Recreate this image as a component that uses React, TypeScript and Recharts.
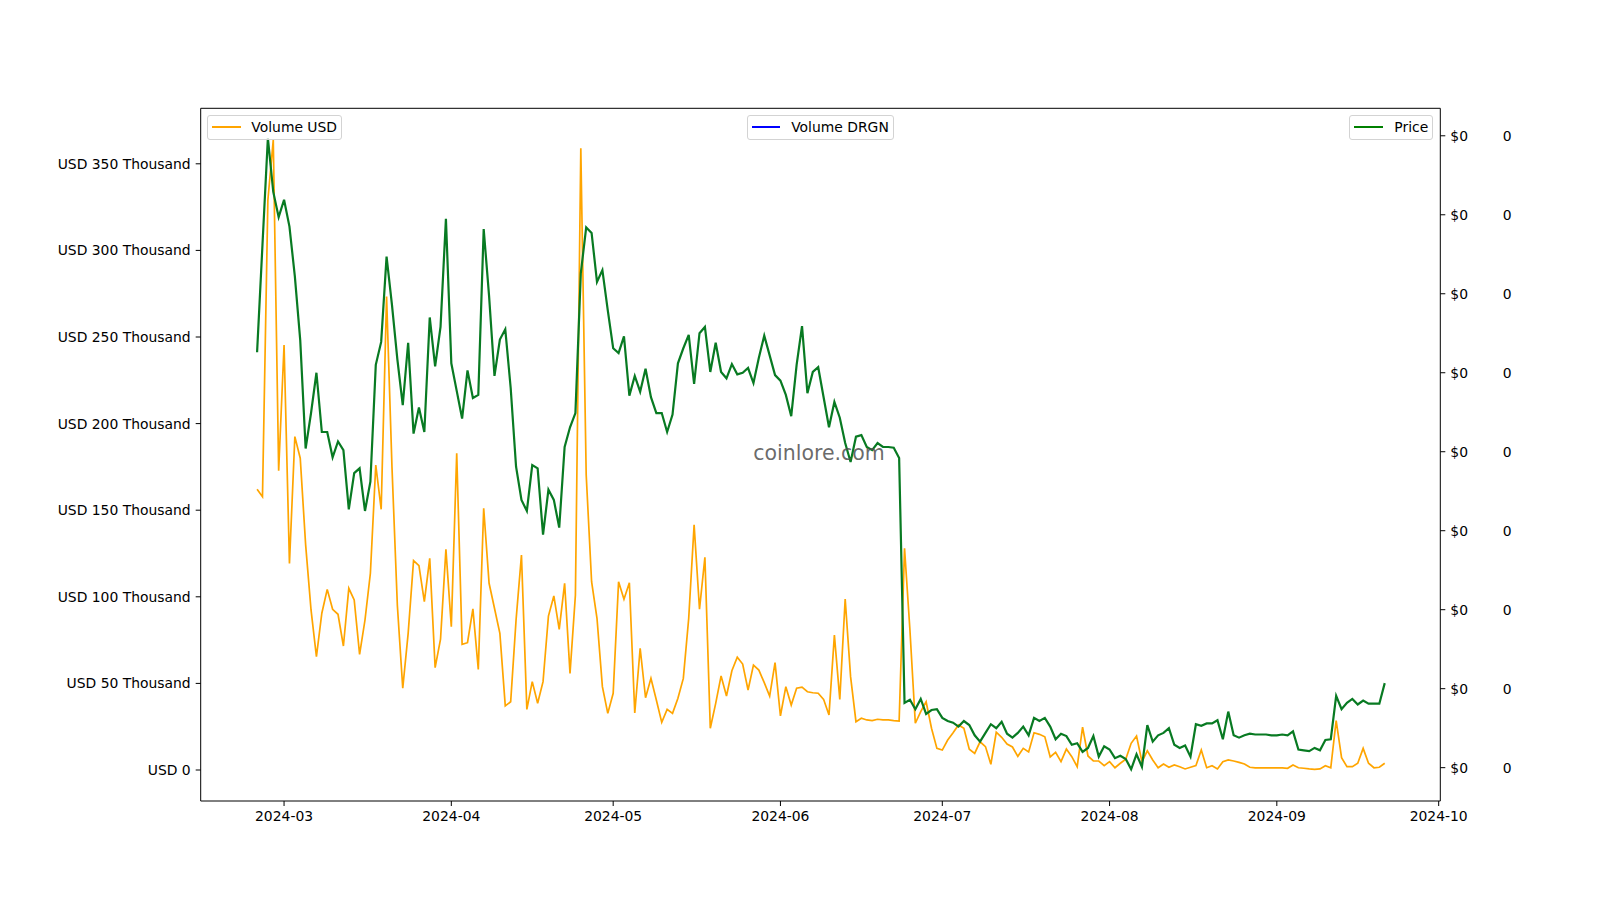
import React from 'react';
import { LineChart, Line, XAxis, YAxis, ReferenceLine } from 'recharts';

// day offsets relative to 2024-03-01; first sample is 2024-02-25
const startDay = -5;

const volumeUsd = [
  162100, 157800, 329000, 363800, 172800,
  245400, 119300, 192500, 180000, 130000, 92400, 65400, 90500, 104300, 92800,
  89900, 71600, 104900, 98200, 66800, 86600, 113600, 176100, 150500, 273300,
  175000, 95000, 47200, 78900, 120900, 118000, 97200, 122200, 59100, 75500,
  127400, 82700, 182900, 72600, 73500, 93000, 58100, 151100, 107800, 93400,
  78900, 37000, 39400, 86600, 124100, 35000, 51000, 38500, 51000, 88900,
  100500, 81200, 107800, 55800, 101000, 359000, 170300, 108700, 87600, 48100,
  32700, 44300, 108700, 98600, 108100, 32900, 70300, 41700, 52900, 40400,
  27500, 35000, 32700, 41400, 52900, 87600, 141500, 92800, 122800, 24100,
  38500, 54300, 42700, 57300, 65100, 61200, 46200, 60600, 57700, 50400,
  42700, 62000, 31200, 48100, 37500, 47200, 47800, 45200, 44600, 44300,
  40800, 31800, 77900, 40800, 98700, 53900, 27900, 29900, 28900, 28500,
  29300, 28900, 28900, 28500, 28300, 128000, 80800, 27000, 33700, 39400,
  24100, 12500, 11500, 17300, 21500, 26000, 24100, 12000, 9600, 16300,
  13500, 3300, 21800, 18900, 15000, 13300, 7900, 12500, 10400, 21500,
  20600, 19200, 7500, 10200, 4800, 12100, 7700, 1900, 24700, 8100,
  5200, 5200, 2500, 4800, 1300, 3900, 6200, 15400, 19600, 4800,
  11100, 5800, 1300, 3500, 1600, 2900, 1900, 600, 1600, 2500,
  11500, 1300, 2500, 600, 4800, 5800, 5200, 4400, 3500, 1600,
  1200, 1200, 1200, 1200, 1200, 1200, 1000, 2900, 1300, 1000,
  600, 400, 600, 2500, 1300, 28500, 7100, 1900, 1900, 3900,
  12500, 3900, 1300, 1600, 3900,
];

const priceUsd = [
  0.0626, 0.0762, 0.0897, 0.0829, 0.0797,
  0.0819, 0.0785, 0.0722, 0.0641, 0.0504, 0.0549, 0.0600, 0.0525, 0.0525, 0.0493,
  0.0513, 0.0502, 0.0427, 0.0473, 0.0479, 0.0425, 0.0462, 0.0610, 0.0639, 0.0747,
  0.0686, 0.0617, 0.0559, 0.0638, 0.0523, 0.0556, 0.0525, 0.0670, 0.0608, 0.0658,
  0.0795, 0.0612, 0.0577, 0.0542, 0.0603, 0.0568, 0.0572, 0.0782, 0.0697, 0.0596,
  0.0642, 0.0655, 0.0581, 0.0481, 0.0439, 0.0425, 0.0483, 0.0479, 0.0395, 0.0452,
  0.0439, 0.0404, 0.0506, 0.0531, 0.0549, 0.0726, 0.0784, 0.0777, 0.0715, 0.0730,
  0.0679, 0.0631, 0.0625, 0.0646, 0.0571, 0.0596, 0.0576, 0.0605, 0.0569, 0.0549,
  0.0549, 0.0525, 0.0547, 0.0612, 0.0631, 0.0648, 0.0586, 0.0650, 0.0658, 0.0601,
  0.0638, 0.0601, 0.0593, 0.0611, 0.0598, 0.0600, 0.0606, 0.0587, 0.0619, 0.0647,
  0.0622, 0.0597, 0.0590, 0.0572, 0.0545, 0.0610, 0.0659, 0.0574, 0.0601, 0.0607,
  0.0569, 0.0531, 0.0563, 0.0543, 0.0511, 0.0487, 0.0519, 0.0521, 0.0506, 0.0502,
  0.0511, 0.0506, 0.0506, 0.0505, 0.0492, 0.0182, 0.0186, 0.0174, 0.0187, 0.0168,
  0.0173, 0.0174, 0.0163, 0.0159, 0.0157, 0.0152, 0.0159, 0.0154, 0.0141, 0.0133,
  0.0144, 0.0155, 0.0150, 0.0158, 0.0143, 0.0138, 0.0144, 0.0152, 0.0141, 0.0163,
  0.0159, 0.0163, 0.0152, 0.0136, 0.0143, 0.0140, 0.0129, 0.0131, 0.0120, 0.0125,
  0.0140, 0.0114, 0.0127, 0.0123, 0.0112, 0.0115, 0.0111, 0.0098, 0.0117, 0.0101,
  0.0154, 0.0133, 0.0141, 0.0144, 0.0150, 0.0129, 0.0125, 0.0128, 0.0114, 0.0155,
  0.0153, 0.0156, 0.0156, 0.0160, 0.0136, 0.0171, 0.0141, 0.0138, 0.0141, 0.0143,
  0.0142, 0.0142, 0.0142, 0.0141, 0.0141, 0.0142, 0.0141, 0.0146, 0.0123, 0.0122,
  0.0121, 0.0125, 0.0122, 0.0135, 0.0136, 0.0191, 0.0174, 0.0182, 0.0187, 0.0180,
  0.0185, 0.0181, 0.0181, 0.0181, 0.0207,
];

const monthTicks = [0, 31, 61, 92, 122, 153, 184, 214];
const monthLabels = ['2024-03', '2024-04', '2024-05', '2024-06', '2024-07', '2024-08', '2024-09', '2024-10'];
const volumeTicks = [0, 50000, 100000, 150000, 200000, 250000, 300000, 350000];
const priceTicks = [0.01, 0.02, 0.03, 0.04, 0.05, 0.06, 0.07, 0.08, 0.09];

const VOL_DOMAIN: [number, number] = [-17898, 382044];
const PRICE_DOMAIN: [number, number] = [0.00578, 0.09348];
const X_DOMAIN: [number, number] = [-15.45, 214.3];

const data = volumeUsd.map((v, i) => ({
  d: startDay + i,
  volumeUsd: v,
  price: priceUsd[i],
  volumeDrgn: null as number | null,
}));

const FONT = '"DejaVu Sans", Verdana, sans-serif';
const FS = 13.9;

const xLabel = (v: number) => {
  const i = monthTicks.indexOf(v);
  return i >= 0 ? monthLabels[i] : '';
};
const volLabel = (v: number) => (v === 0 ? 'USD 0' : `USD ${Math.round(v / 1000)} Thousand`);
const priceLabel = (v: number) => `$${Math.round(v)}`;
const drgnLabel = () => '0';

const tickStyle = { fill: '#000', fontSize: FS, fontFamily: FONT };
const blackLine = { stroke: '#000', strokeWidth: 1 };

function LegendBox(props: { left: number; width: number; color: string; label: string; textLeft: number }) {
  return (
    <div
      style={{
        position: 'absolute',
        left: props.left,
        top: 115,
        width: props.width,
        height: 25,
        boxSizing: 'border-box',
        border: '1px solid #d3d3d3',
        borderRadius: 3,
        background: 'rgba(255,255,255,0.8)',
        fontFamily: FONT,
        fontSize: FS,
        color: '#000',
      }}
    >
      <div
        style={{
          position: 'absolute',
          left: 4,
          top: 10,
          width: 28.4,
          height: 0,
          borderTop: `2px solid ${props.color}`,
        }}
      />
      <div style={{ position: 'absolute', left: props.textLeft, top: 3, lineHeight: '17px', whiteSpace: 'nowrap' }}>
        {props.label}
      </div>
    </div>
  );
}

export default function App() {
  return (
    <div style={{ position: 'absolute', left: 0, top: 0, width: 1600, height: 900, background: '#fff' }}>
      <LineChart
        width={1600}
        height={900}
        data={data}
        margin={{ top: 108.3, right: 0, bottom: 69, left: 0 }}
      >
        <XAxis
          xAxisId="main"
          dataKey="d"
          type="number"
          scale="linear"
          domain={X_DOMAIN}
          allowDataOverflow
          ticks={monthTicks}
          tickFormatter={xLabel}
          tick={tickStyle}
          tickLine={blackLine}
          axisLine={blackLine}
          tickSize={5}
          tickMargin={5}
          height={30}
          interval={0}
        />
        <YAxis
          yAxisId="left1"
          orientation="left"
          type="number"
          domain={VOL_DOMAIN}
          allowDataOverflow
          ticks={volumeTicks}
          tickFormatter={volLabel}
          tick={tickStyle}
          tickLine={blackLine}
          axisLine={blackLine}
          tickSize={5}
          tickMargin={5}
          width={200.7}
          interval={0}
        />
        <YAxis
          yAxisId="right1"
          orientation="right"
          type="number"
          domain={PRICE_DOMAIN}
          allowDataOverflow
          ticks={priceTicks}
          tickFormatter={priceLabel}
          tick={tickStyle}
          tickLine={blackLine}
          axisLine={blackLine}
          tickSize={5}
          tickMargin={5}
          width={55}
          interval={0}
        />
        <YAxis
          yAxisId="right2"
          orientation="right"
          type="number"
          domain={PRICE_DOMAIN}
          allowDataOverflow
          ticks={priceTicks}
          tickFormatter={drgnLabel}
          tick={tickStyle}
          tickLine={false}
          axisLine={false}
          tickSize={0}
          tickMargin={7.4}
          width={104.7}
          interval={0}
        />
        <ReferenceLine
          xAxisId="main"
          yAxisId="left1"
          y={VOL_DOMAIN[1]}
          stroke="#000"
          strokeWidth={1}
          ifOverflow="extendDomain"
        />
        <Line
          xAxisId="main"
          yAxisId="left1"
          type="linear"
          dataKey="volumeUsd"
          stroke="#FFA500"
          strokeWidth={1.7}
          dot={false}
          isAnimationActive={false}
        />
        <Line
          xAxisId="main"
          yAxisId="right2"
          type="linear"
          dataKey="volumeDrgn"
          stroke="#0000FF"
          strokeWidth={1.6}
          dot={false}
          isAnimationActive={false}
        />
        <Line
          xAxisId="main"
          yAxisId="right1"
          type="linear"
          dataKey="price"
          stroke="#087a22"
          strokeWidth={2.2}
          dot={false}
          isAnimationActive={false}
        />
      </LineChart>
      <div
        style={{
          position: 'absolute',
          left: 819,
          top: 453,
          transform: 'translate(-50%, -50%)',
          fontFamily: FONT,
          fontSize: 20.5,
          color: 'rgba(80,80,80,0.85)',
          whiteSpace: 'nowrap',
          pointerEvents: 'none',
        }}
      >
        coinlore.com
      </div>
      <LegendBox left={207.3} width={135} color="#FFA500" label="Volume USD" textLeft={43} />
      <LegendBox left={746.7} width={147.6} color="#0000FF" label="Volume DRGN" textLeft={43.5} />
      <LegendBox left={1349.3} width={84} color="#008000" label="Price" textLeft={44} />
    </div>
  );
}
